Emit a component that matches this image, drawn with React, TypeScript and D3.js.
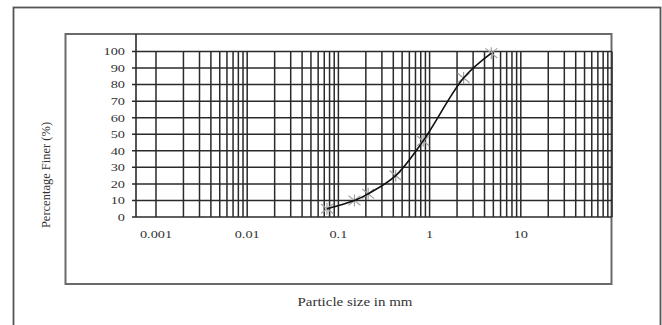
import { scaleLog, scaleLinear, line, curveCatmullRom } from "d3";

const sieveSize = [4.75, 2.36, 0.85, 0.425, 0.212, 0.15, 0.075];
const percentFiner = [99, 84, 46, 25, 14, 10, 5];
const yTicks = [0, 10, 20, 30, 40, 50, 60, 70, 80, 90, 100];
const xLabels = [0.001, 0.01, 0.1, 1, 10];

function GradingChart() {
    const width = 662;
    const height = 325;

    const plotLeft = 136;
    const plotRight = 612;
    const plotTop = 34;
    const plotBottom = 217;

    const x = scaleLog([0.0006037, 100], [plotLeft, plotRight]);
    const y = scaleLinear([0, 100], [plotBottom, 51.5]);

    const gridX = x.ticks().filter((t) => t >= 0.00099);

    const points = sieveSize
        .map((s, i) => [s, percentFiner[i]] as [number, number])
        .sort((a, b) => a[0] - b[0]);

    const curve = line<[number, number]>()
        .x((d) => x(d[0]))
        .y((d) => y(d[1]))
        .curve(curveCatmullRom.alpha(0.5));

    const textColor = "#333";
    const font = "'Liberation Serif', 'Times New Roman', serif";

    return (
        <svg width={width} height={height} style={{ display: "block" }}>
            <rect width={width} height={height} fill="white" />
            {/* outer frame */}
            <rect x={13.5} y={7.5} width={647} height={400} fill="none" stroke="#555" strokeWidth={1.8} />
            {/* chart area frame */}
            <rect x={65.5} y={34} width={546} height={250} fill="none" stroke="#6a6a6a" strokeWidth={2} />

            {/* horizontal grid */}
            <g stroke="#2a2a2a" strokeWidth={1.5}>
                {yTicks.map((t) => (
                    <line key={t} x1={plotLeft - 4} x2={plotRight} y1={y(t)} y2={y(t)} />
                ))}
            </g>
            {/* vertical grid */}
            <g stroke="#2a2a2a" strokeWidth={1.5}>
                {gridX.map((t, i) => (
                    <line key={i} x1={x(t)} x2={x(t)} y1={y(100)} y2={plotBottom} />
                ))}
            </g>
            {/* y axis line */}
            <line x1={plotLeft} x2={plotLeft} y1={plotTop} y2={plotBottom} stroke="#2a2a2a" strokeWidth={1.6} />

            {/* y tick labels */}
            <g fill={textColor} fontFamily={font} fontSize={11}>
                {yTicks.map((t) => (
                    <text
                        key={t}
                        transform={`translate(125,${y(t)}) scale(1.3,1)`}
                        textAnchor="end"
                        dy="0.35em"
                    >
                        {t}
                    </text>
                ))}
            </g>
            {/* x tick labels */}
            <g fill={textColor} fontFamily={font} fontSize={11}>
                {xLabels.map((t) => (
                    <text
                        key={t}
                        transform={`translate(${x(t)},238) scale(1.3,1)`}
                        textAnchor="middle"
                    >
                        {String(t)}
                    </text>
                ))}
            </g>

            {/* markers */}
            <g stroke="#a0a0a0" strokeWidth={1.2} fill="none">
                {points.map((d, i) => {
                    const cx = x(d[0]);
                    const cy = y(d[1]);
                    const r = 6;
                    return (
                        <path
                            key={i}
                            d={`M${cx - r},${cy - r * 0.8}L${cx + r},${cy + r * 0.8}M${cx - r},${cy + r * 0.8}L${cx + r},${cy - r * 0.8}M${cx},${cy - r}L${cx},${cy + r}`}
                        />
                    );
                })}
            </g>
            <path d={curve(points) ?? ""} fill="none" stroke="#111" strokeWidth={1.6} />

            {/* axis titles */}
            <text
                transform="translate(50,175) rotate(-90)"
                textAnchor="middle"
                fill={textColor}
                fontFamily={font}
                fontSize={12.5}
            >
                Percentage Finer (%)
            </text>
            <text
                transform="translate(355,306) scale(1.15,1)"
                textAnchor="middle"
                fill={textColor}
                fontFamily={font}
                fontSize={13}
            >
                Particle size in mm
            </text>
        </svg>
    );
}

export default function App() {
    return (
        <div style={{ position: "absolute", left: 0, top: 0 }}>
            <GradingChart />
        </div>
    );
}
